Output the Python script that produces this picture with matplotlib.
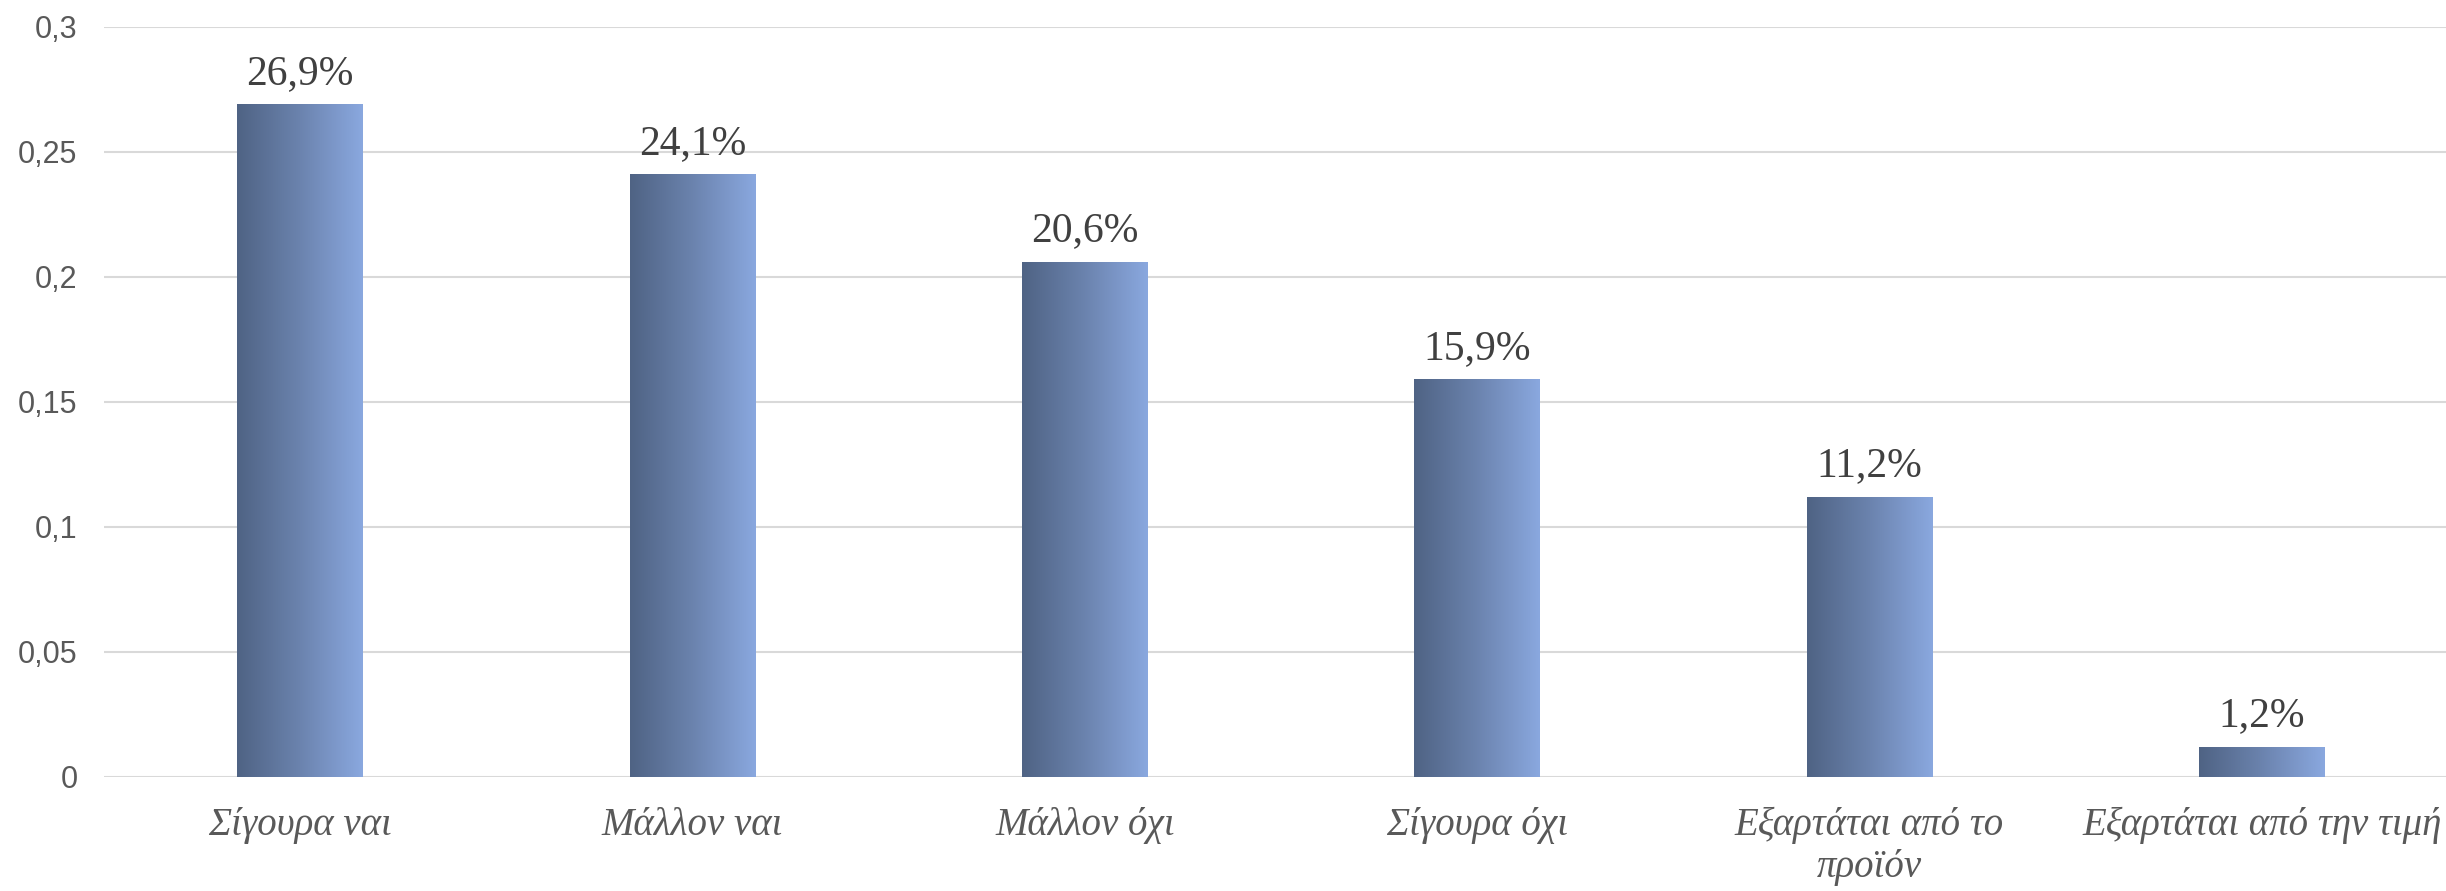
import numpy as np
import matplotlib.pyplot as plt
from matplotlib.colors import LinearSegmentedColormap
from matplotlib.ticker import FixedLocator, FuncFormatter

# Survey answers and their shares
categories = ['Σίγουρα ναι', 'Μάλλον ναι', 'Μάλλον όχι', 'Σίγουρα όχι',
              'Εξαρτάται από το\nπροϊόν', 'Εξαρτάται από την τιμή']
shares = [0.269, 0.241, 0.206, 0.159, 0.112, 0.012]
y_ticks = [0, 0.05, 0.1, 0.15, 0.2, 0.25, 0.3]

W, H = 2446, 891
fig = plt.figure(figsize=(W / 100, H / 100), dpi=100)
fig.patch.set_facecolor('white')

# axes placed in pixel terms, right edge runs slightly past the figure
left_px, right_px = 104, 2458
bottom_px, top_px = 891 - 776.7, 891 - 26.7
ax = fig.add_axes([left_px / W, bottom_px / H,
                   (right_px - left_px) / W, (top_px - bottom_px) / H])

x = np.arange(len(categories))
bars = ax.bar(x, shares, width=0.32, facecolor='none', edgecolor='none', zorder=3)

# horizontal gradient fill in each bar
cmap = LinearSegmentedColormap.from_list('grad', ['#4f6384', '#6b83ae', '#8aa8df'])
grad = np.linspace(0, 1, 256).reshape(1, -1)
for b in bars:
    x0, y0 = b.get_x(), b.get_y()
    im = ax.imshow(grad, cmap=cmap, aspect='auto', zorder=3,
                   extent=[x0, x0 + b.get_width(), y0, y0 + b.get_height()])
    im.set_clip_path(b)

labels = [f'{v * 100:.1f}%'.replace('.', ',') for v in shares]
ax.bar_label(bars, labels=labels, padding=8, fontsize=30,
             family='Liberation Serif', color='#404040')

ax.set_xlim(-0.5, len(categories) - 0.5)
ax.set_ylim(0, 0.3)
ax.yaxis.set_major_locator(FixedLocator(y_ticks))
ax.yaxis.set_major_formatter(FuncFormatter(
    lambda v, p: '0' if v == 0 else f'{v:g}'.replace('.', ',')))
ax.grid(axis='y', color='#d9d9d9', linewidth=1.5, zorder=0)
ax.set_axisbelow(True)

for s in ax.spines.values():
    s.set_visible(False)

ax.set_xticks(x)
ax.set_xticklabels(categories, fontsize=28, family='Liberation Serif',
                   style='italic', color='#595959', linespacing=1.15)
ax.tick_params(axis='x', length=0, pad=22)
ax.tick_params(axis='y', length=0, pad=19, labelsize=22, labelcolor='#595959')
for t in ax.get_yticklabels():
    t.set_family('Liberation Sans')

fig.savefig('out.png', dpi=100, facecolor='white')
